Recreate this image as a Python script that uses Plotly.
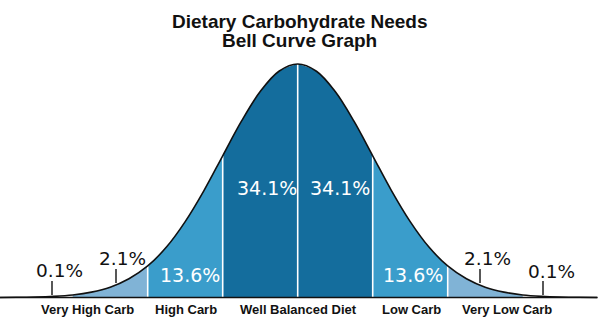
import plotly.graph_objects as go

# ---- data ----
# curve height relative to the peak, sampled every 0.25 standard deviation
z_grid = [-4.0, -3.75, -3.5, -3.25, -3.0, -2.75, -2.5, -2.25, -2.0, -1.75, -1.5, -1.25, -1.0,
          -0.75, -0.5, -0.25, 0.0, 0.25, 0.5, 0.75, 1.0, 1.25, 1.5, 1.75, 2.0, 2.25, 2.5,
          2.75, 3.0, 3.25, 3.5, 3.75, 4.0]
curve_height = [0.000, 0.001, 0.002, 0.005, 0.011, 0.023, 0.044, 0.080, 0.135, 0.216, 0.325,
                0.458, 0.607, 0.755, 0.882, 0.969, 1.000, 0.969, 0.882, 0.755, 0.607, 0.458,
                0.325, 0.216, 0.135, 0.080, 0.044, 0.023, 0.011, 0.005, 0.002, 0.001, 0.000]
segment_bounds = [-3, -2, -1, 0, 1, 2, 3]
segment_pct = ["2.1%", "13.6%", "34.1%", "34.1%", "13.6%", "2.1%"]
tail_pct = ["0.1%", "0.1%"]
category_labels = ["Very High Carb", "High Carb", "Well Balanced Diet", "Low Carb", "Very Low Carb"]
title_lines = ["Dietary Carbohydrate Needs", "Bell Curve Graph"]

# ---- styles ----
LIGHT, MED, DARK = "#80b3d6", "#3a9dcb", "#146d9d"
segment_colors = [LIGHT, MED, DARK, DARK, MED, LIGHT]
W, H = 600, 324
CX, SIG = 297.7, 75.0        # pixel centre and pixels per sigma
BASE_PX, PEAK_PX = 297.5, 64.0
UNIT = BASE_PX - PEAK_PX

def height_at(z):
    return curve_height[z_grid.index(float(z))]

fig = go.Figure()

# filled segments
for i in range(len(segment_bounds) - 1):
    a, b = segment_bounds[i], segment_bounds[i + 1]
    xs = [z for z in z_grid if a <= z <= b]
    ys = [height_at(z) for z in xs]
    fig.add_trace(go.Scatter(x=xs, y=ys, mode="lines", fill="tozeroy",
                             fillcolor=segment_colors[i],
                             line=dict(width=0, color=segment_colors[i], shape="spline"),
                             hoverinfo="skip", showlegend=False))

# white dividers
for b in segment_bounds[1:-1]:
    fig.add_trace(go.Scatter(x=[b, b], y=[0, height_at(b)], mode="lines",
                             line=dict(color="white", width=1.6),
                             hoverinfo="skip", showlegend=False))

# curve outline
fig.add_trace(go.Scatter(x=z_grid, y=curve_height, mode="lines",
                         line=dict(color="#111111", width=1.6, shape="spline"),
                         hoverinfo="skip", showlegend=False))

# baseline
x0 = -CX / SIG
x1 = (597 - CX) / SIG
fig.add_trace(go.Scatter(x=[x0, x1], y=[0, 0], mode="lines",
                         line=dict(color="#111111", width=1.6),
                         hoverinfo="skip", showlegend=False))

def pz(px):
    return (px - CX) / SIG

def py(p):
    return (BASE_PX - p) / UNIT

# small ticks under the tail labels
tick_specs = [(52, 281, 295), (116, 269, 283), (480, 269, 283), (543, 281, 295)]
for tx, t0, t1 in tick_specs:
    fig.add_trace(go.Scatter(x=[pz(tx), pz(tx)], y=[py(t1), py(t0)], mode="lines",
                             line=dict(color="#111111", width=1.4),
                             hoverinfo="skip", showlegend=False))

annotations = []

def add_text(text, px, pyy, size, color, family, bold=False):
    t = f"<b>{text}</b>" if bold else text
    annotations.append(dict(x=px / W, y=1 - pyy / H, xref="paper", yref="paper",
                            text=t, showarrow=False, xanchor="center", yanchor="middle",
                            font=dict(size=size, color=color, family=family)))

PCT_FONT = "DejaVu Sans"
LBL_FONT = "Liberation Sans, Arial, sans-serif"

# percentage labels
seg_pos = [(123, 258), (190, 275), (266.5, 188), (339.5, 188), (413, 275), (487, 258)]
for txt, (lx, ly), col in zip(segment_pct, seg_pos,
                              ["#111111", "white", "white", "white", "white", "#111111"]):
    size = 18.5 if txt == "2.1%" else 19
    add_text(txt, lx, ly, size, col, PCT_FONT)
for txt, (lx, ly) in zip(tail_pct, [(59, 270), (551, 271)]):
    add_text(txt, lx, ly, 18.5, "#111111", PCT_FONT)

# category labels
for txt, lx in zip(category_labels, [87, 186, 298, 411, 507]):
    add_text(txt, lx, 309, 13, "#111111", LBL_FONT, bold=True)

# title
for txt, ly in zip(title_lines, [21.5, 40.5]):
    add_text(txt, 299.5, ly, 19, "#111111", LBL_FONT, bold=True)

fig.update_layout(
    width=W, height=H,
    margin=dict(l=0, r=0, t=0, b=0),
    paper_bgcolor="white", plot_bgcolor="white",
    xaxis=dict(range=[-CX / SIG, (W - CX) / SIG], visible=False, fixedrange=True),
    yaxis=dict(range=[-(H - BASE_PX) / UNIT, BASE_PX / UNIT], visible=False, fixedrange=True),
    annotations=annotations,
    showlegend=False,
)

fig.write_html("out.html", config={"displayModeBar": False})
